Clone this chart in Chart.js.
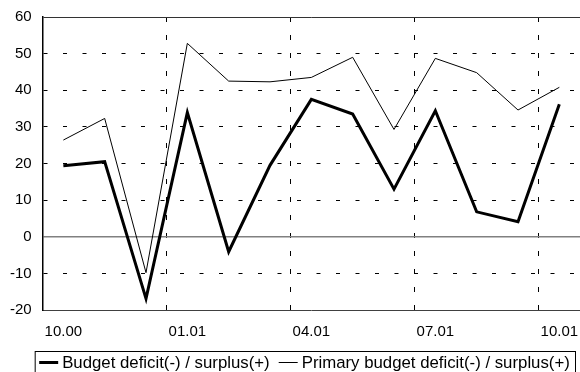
<!DOCTYPE html>
<html lang="en">
<head>
  <meta charset="UTF-8" />
  <title>Budget deficit / surplus</title>
  <script src="https://cdn.jsdelivr.net/npm/chart.js"></script>
  <style>
    html, body {
      margin: 0;
      padding: 0;
      background: #ffffff;
      overflow: hidden;
    }
    #wrap {
      width: 580px;
      height: 372px;
    }
  </style>
</head>
<body>
  <div id="wrap"><canvas id="deficitChart" width="580" height="372"></canvas></div>

  <script>
    // monthly data, 10.00 .. 10.01
    const months = ['10.00', '11.00', '12.00', '01.01', '02.01', '03.01', '04.01',
                    '05.01', '06.01', '07.01', '08.01', '09.01', '10.01'];
    const budgetBalance  = [19.4, 20.5, -16.9, 33.9, -4.1, 19.5, 37.5, 33.5, 13.0, 34.4, 6.8, 4.1, 36.2];
    const primaryBalance = [26.4, 32.3, -9.8, 52.8, 42.5, 42.3, 43.5, 49.0, 29.3, 48.7, 44.8, 34.6, 40.8];
    const yTicks = { min: -20, max: 60, step: 10 };

    const FONT = "Arial, 'Liberation Sans', sans-serif";

    // legend in a framed box under the x axis
    const boxLegend = {
      id: 'boxLegend',
      afterDraw(chart) {
        const ctx = chart.ctx;
        const area = chart.chartArea;
        const top = 351.5;
        const left = area.left - 7.5;
        const right = chart.width - 4.5;
        const midY = top + 11;
        ctx.save();
        ctx.strokeStyle = '#000';
        ctx.lineWidth = 1;
        ctx.strokeRect(left, top, right - left, 40);
        ctx.font = '16.8px ' + FONT;
        ctx.textBaseline = 'middle';
        ctx.fillStyle = '#000';
        let x = left + 4;
        chart.data.datasets.forEach((ds) => {
          ctx.beginPath();
          ctx.lineWidth = ds.borderWidth;
          ctx.strokeStyle = ds.borderColor;
          ctx.moveTo(x, midY);
          ctx.lineTo(x + 19, midY);
          ctx.stroke();
          x += 23;
          ctx.fillText(ds.label, x, midY + 1);
          x += ctx.measureText(ds.label).width + 9;
        });
        ctx.restore();
      }
    };

    new Chart(document.getElementById('deficitChart'), {
      type: 'line',
      data: {
        labels: months,
        datasets: [
          {
            label: 'Budget deficit(-) / surplus(+)',
            data: budgetBalance,
            borderColor: '#000',
            borderWidth: 3,
            pointRadius: 0,
            tension: 0,
            order: 1
          },
          {
            label: 'Primary budget deficit(-) / surplus(+)',
            data: primaryBalance,
            borderColor: '#000',
            borderWidth: 1,
            pointRadius: 0,
            tension: 0,
            order: 2
          }
        ]
      },
      options: {
        responsive: false,
        animation: false,
        layout: { padding: { left: 10, right: 0, top: 17, bottom: 31 } },
        plugins: {
          legend: { display: false },
          tooltip: { enabled: false }
        },
        scales: {
          x: {
            offset: true,
            grid: {
              offset: true,
              drawTicks: true,
              tickLength: 13,
              tickColor: 'rgba(0,0,0,0)',
              color: (c) => (c.index % 3 === 0 && c.index > 0) ? '#000' : 'rgba(0,0,0,0)',
              lineWidth: 1
            },
            border: { display: true, color: '#404040', width: 1, dash: [5, 13] },
            ticks: {
              autoSkip: false,
              maxRotation: 0,
              padding: 0,
              color: '#000',
              font: { family: FONT, size: 15 },
              callback: function (value, index) {
                return index % 3 === 0 ? this.getLabelForValue(value) : '';
              }
            }
          },
          y: {
            min: yTicks.min,
            max: yTicks.max,
            grid: {
              drawTicks: true,
              tickLength: 11,
              tickColor: 'rgba(0,0,0,0)',
              color: (c) => {
                const v = c.tick ? c.tick.value : null;
                if (v === 0) return '#808080';
                if (v === yTicks.max) return '#333';
                return '#000';
              },
              lineWidth: (c) => (c.tick && c.tick.value === 0) ? 1.5 : 1
            },
            border: {
              display: true,
              color: '#000',
              width: 1.5,
              dash: (c) => {
                const v = c.tick ? c.tick.value : null;
                return (v === 0 || v === yTicks.max) ? [] : [4, 15.5];
              }
            },
            ticks: {
              stepSize: yTicks.step,
              padding: 0,
              color: '#000',
              font: { family: FONT, size: 15 }
            }
          }
        }
      },
      plugins: [boxLegend]
    });
  </script>
</body>
</html>
